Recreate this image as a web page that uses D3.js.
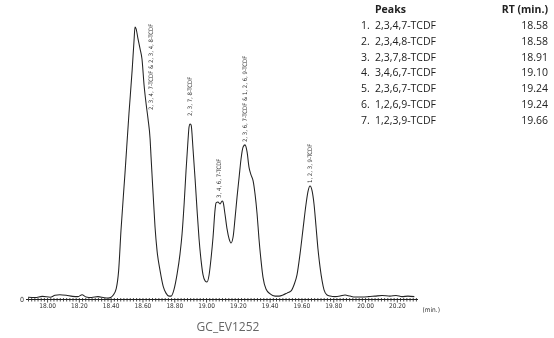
<!DOCTYPE html>
<html><head><meta charset="utf-8">
<script src="https://cdn.jsdelivr.net/npm/d3@7"></script>
<style>
body{margin:0;background:#fff;}
svg{display:block;filter:grayscale(1);}
</style></head>
<body><svg id="c" width="554" height="338"></svg>
<script>
// ---- data ----
const times = [17.88,17.925,17.97,18.02,18.05,18.08,18.12,18.16,18.195,18.22,18.245,18.28,18.32,18.36,18.385,18.40,18.415,18.435,18.45,18.465,18.49,18.515,18.535,18.547,18.553,
18.56,18.572,18.585,18.597,18.61,18.623,18.635,18.648,18.654,18.667,18.679,18.692,18.711,18.73,18.748,18.767,18.78,
18.799,18.818,18.836,18.849,18.862,18.874,18.887,18.893,18.899,18.906,18.918,18.931,18.943,18.956,18.969,18.981,18.994,19.006,
19.019,19.031,19.044,19.057,19.063,19.075,19.088,19.101,19.107,19.119,19.132,19.145,19.157,
19.17,19.182,19.195,19.208,19.22,19.233,19.245,19.258,19.27,19.283,19.296,19.308,19.321,19.333,19.346,19.358,19.377,19.403,19.434,
19.46,19.484,19.509,19.535,19.553,19.572,19.591,19.61,19.629,19.642,19.654,19.667,19.679,19.692,19.704,19.717,19.73,19.742,19.761,19.78,
19.811,19.843,19.874,19.906,19.937,19.98,20.02,20.063,20.107,20.157,20.195,20.233,20.27,20.31];
const signal = [0.3,0.2,0.6,0.3,1.0,1.2,1.0,0.6,0.5,1.2,0.4,0.2,0.5,0.1,0.0,0.2,1.0,3.5,10,25,46,68,84,95,100,
99.3,95.6,91.9,88.2,78.6,71.6,66.1,58.7,52,38.4,26.2,17.3,10,4.4,1.8,0.7,0.7,
3.3,8.9,16.2,23.6,34.7,46.9,58.7,63.1,64.2,63.8,55,43.9,32.8,21.8,13.7,8.5,6.3,5.9,
8.5,14.4,22.5,32.8,35.1,35.4,34.7,35.8,35.4,31,25.5,21.8,20.3,
22.5,29.2,37.3,44.6,51.3,55.7,56.5,53.9,48.3,45.4,43.2,38.4,31,21.8,13.7,7.7,3.3,1.5,0.7,
0.7,1.1,1.8,2.6,4.8,8.5,16.2,25.5,34.7,39.5,41.3,39.5,34.7,26.2,18.1,11.4,6.3,3,1.1,0.7,
0.5,0.7,1.1,0.7,0.4,0.4,0.5,0.7,0.9,0.7,0.9,0.5,0.7,0.5];

const peakLabels = ["2, 3, 4, 7-TCDF & 2, 3, 4, 8-TCDF","2, 3, 7, 8-TCDF","3, 4, 6, 7-TCDF","2, 3, 6, 7-TCDF & 1, 2, 6, 9-TCDF","1, 2, 3, 9-TCDF"];
const peakLabelTimes = [18.654,18.899,19.082,19.245,19.654];
const peakLabelLevels = [69.7,67.5,37.3,57.9,42.8];

const tableNums = ["1.","2.","3.","4.","5.","6.","7."];
const tableNames = ["2,3,4,7-TCDF","2,3,4,8-TCDF","2,3,7,8-TCDF","3,4,6,7-TCDF","2,3,6,7-TCDF","1,2,6,9-TCDF","1,2,3,9-TCDF"];
const tableRT = ["18.58","18.58","18.91","19.10","19.24","19.24","19.66"];

const xTickLabels = [18.00,18.20,18.40,18.60,18.80,19.00,19.20,19.40,19.60,19.80,20.00,20.20];
const yTickLabels = [0];
const title = "GC_EV1252";

// ---- drawing ----
const svg = d3.select("#c");
const x = d3.scaleLinear().domain([17.88, 20.33]).range([28, 417.5]);
const y = d3.scaleLinear().domain([0, 100]).range([299, 28]);
const ink = "#222";
const narrow = "'Liberation Sans Narrow','DejaVu Sans Condensed',sans-serif";

// x axis with minor ticks
const minor = d3.range(0, 123).map(i => +(17.88 + i*0.02).toFixed(2));
const isMajor = v => xTickLabels.some(t => Math.abs(t - v) < 1e-6);
const xAxis = d3.axisBottom(x).tickValues(minor).tickSizeOuter(0)
  .tickFormat(v => isMajor(v) ? d3.format(".2f")(v) : "");
const gx = svg.append("g").attr("transform", `translate(0,${y(0)})`).call(xAxis);
gx.select(".domain").attr("stroke", ink).attr("stroke-width", 1);
gx.selectAll(".tick line").attr("stroke", ink).attr("stroke-width", 0.8)
  .attr("y1", -1).attr("y2", d => isMajor(d) ? 3.5 : 2.5);
gx.selectAll(".tick text").attr("font-family", narrow).attr("font-size", 6.5)
  .attr("fill", "#333").attr("dy", "0.5em").attr("y", 6);
svg.append("text").attr("x", x(20.33) + 5).attr("y", y(0) + 12.5)
  .attr("font-family", narrow).attr("font-size", 6.5).attr("fill", "#333").text("(min.)");

// y axis: only the zero label
const yAxis = d3.axisLeft(y).tickValues(yTickLabels).tickSize(2).tickFormat(d3.format("d"));
const gy = svg.append("g").attr("transform", `translate(${x(17.88)},0)`).call(yAxis);
gy.select(".domain").remove();
gy.selectAll(".tick line").attr("stroke", ink);
gy.selectAll(".tick text").attr("font-family", narrow).attr("font-size", 7).attr("fill", "#333").attr("x", -4);

// trace
const pts = times.map((t, i) => [t, signal[i]]);
const line = d3.line().x(d => x(d[0])).y(d => y(d[1]) - 1).curve(d3.curveMonotoneX);
svg.append("path").datum(pts).attr("d", line).attr("fill", "none")
  .attr("stroke", ink).attr("stroke-width", 1.05).attr("stroke-linejoin", "round");

// peak labels (rotated)
const lg = svg.append("g");
peakLabels.forEach((lab, i) => {
  const px = x(peakLabelTimes[i]), py = y(peakLabelLevels[i]);
  lg.append("text").attr("transform", `translate(${px + 2},${py}) rotate(-90)`)
    .attr("font-family", narrow).attr("font-size", 6).attr("fill", "#333").text(lab);
});

// title
svg.append("text").attr("x", 228).attr("y", 331).attr("text-anchor", "middle")
  .attr("font-family", "'Open Sans',sans-serif").attr("font-size", 12).attr("fill", "#666").text(title);

// peak table
const tf = "'Open Sans',sans-serif";
const tg = svg.append("g");
tg.append("text").attr("x", 375).attr("y", 13).attr("font-family", tf).attr("font-size", 10.5)
  .attr("font-weight", "bold").attr("fill", "#222").text("Peaks");
tg.append("text").attr("x", 548).attr("y", 13).attr("text-anchor", "end").attr("font-family", tf)
  .attr("font-size", 10.5).attr("font-weight", "bold").attr("fill", "#222").text("RT (min.)");
const rowY = d3.scaleLinear().domain([0, 6]).range([29, 123.5]);
tableNames.forEach((n, i) => {
  tg.append("text").attr("x", 361).attr("y", rowY(i)).attr("font-family", tf).attr("font-size", 10.5).attr("fill", "#222").text(tableNums[i]);
  tg.append("text").attr("x", 375).attr("y", rowY(i)).attr("font-family", tf).attr("font-size", 10.5).attr("fill", "#222").text(n);
  tg.append("text").attr("x", 548).attr("y", rowY(i)).attr("text-anchor", "end").attr("font-family", tf).attr("font-size", 10.5).attr("fill", "#222").text(tableRT[i]);
});
</script></body></html>
